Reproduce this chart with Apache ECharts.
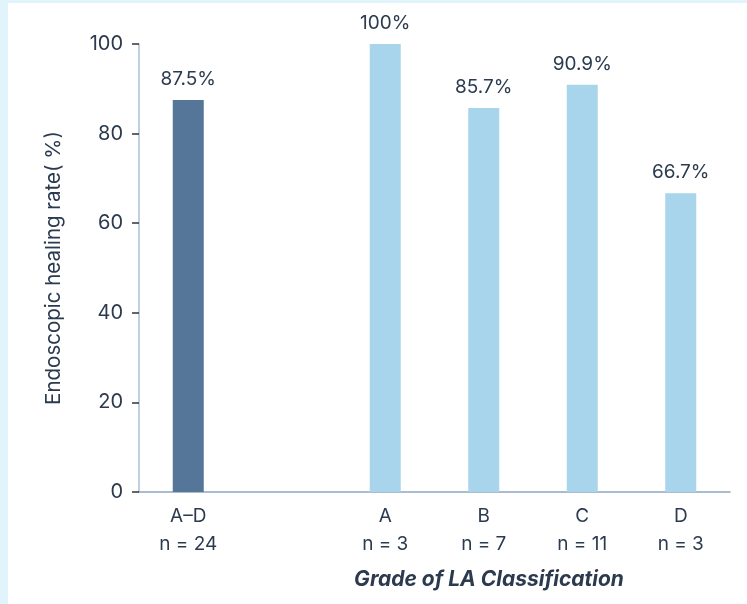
<!DOCTYPE html>
<html>
<head>
<meta charset="utf-8">
<script src="https://cdn.jsdelivr.net/npm/echarts@6/dist/echarts.min.js"></script>
<style>
html,body{margin:0;padding:0;background:#fff;}
#c{width:747px;height:604px;}
</style>
</head>
<body>
<div id="c"></div>
<script>
const categories = ['A–D\nn = 24', '', 'A\nn = 3', 'B\nn = 7', 'C\nn = 11', 'D\nn = 3'];
const values = [87.5, null, 100, 85.7, 90.9, 66.7];
const barColors = ['#557599', null, '#a8d5eb', '#a8d5eb', '#a8d5eb', '#a8d5eb'];
const yTicks = [0, 20, 40, 60, 80, 100];

const textColor = '#2b3a4e';
const font = 'Inter';

const chart = echarts.init(document.getElementById('c'));
chart.setOption({
  animation: false,
  graphic: [
    { type: 'rect', left: 0, top: 0, shape: { width: 8, height: 604 }, style: { fill: '#e1f3fb' }, z: -10 },
    { type: 'rect', left: 0, top: 0, shape: { width: 747, height: 3 }, style: { fill: '#e1f3fb' }, z: -10 },
    { type: 'text', x: 489, y: 580,
      style: { text: 'Grade of LA Classification', fill: textColor, font: 'italic bold 21px Inter',
        align: 'center', verticalAlign: 'middle', textAlign: 'center', textVerticalAlign: 'middle' } }
  ],
  grid: { left: 139, right: 17, top: 44, bottom: 112, containLabel: false },
  xAxis: {
    type: 'category',
    data: categories,
    axisLine: { lineStyle: { color: '#8ea6be', width: 1.5 } },
    axisTick: { alignWithLabel: true, length: 6, lineStyle: { color: '#555', width: 1.5 },
      interval: (i, v) => v !== '' },
    axisLabel: { color: textColor, fontFamily: font, fontSize: 19, lineHeight: 28, margin: 10, interval: 0 }
  },
  yAxis: {
    type: 'value',
    min: 0, max: 100, interval: 20,
    name: 'Endoscopic healing rate( %)',
    nameLocation: 'middle',
    nameGap: 75,
    nameTextStyle: { color: textColor, fontFamily: font, fontSize: 20.5 },
    splitLine: { show: false },
    axisLine: { show: true, lineStyle: { color: '#adc0d3', width: 1.5 } },
    axisTick: { show: true, length: 7, lineStyle: { color: '#333', width: 1.5 } },
    axisLabel: { color: textColor, fontFamily: font, fontSize: 20, margin: 16,
      formatter: v => yTicks.includes(v) ? String(v) : '' }
  },
  series: [{
    type: 'bar',
    barWidth: 31,
    data: values.map((v, i) => ({ value: v, itemStyle: { color: barColors[i] } })),
    label: {
      show: true, position: 'top', distance: 11,
      color: textColor, fontFamily: font, fontSize: 19,
      formatter: p => p.value + '%'
    }
  }]
});
</script>
</body>
</html>
